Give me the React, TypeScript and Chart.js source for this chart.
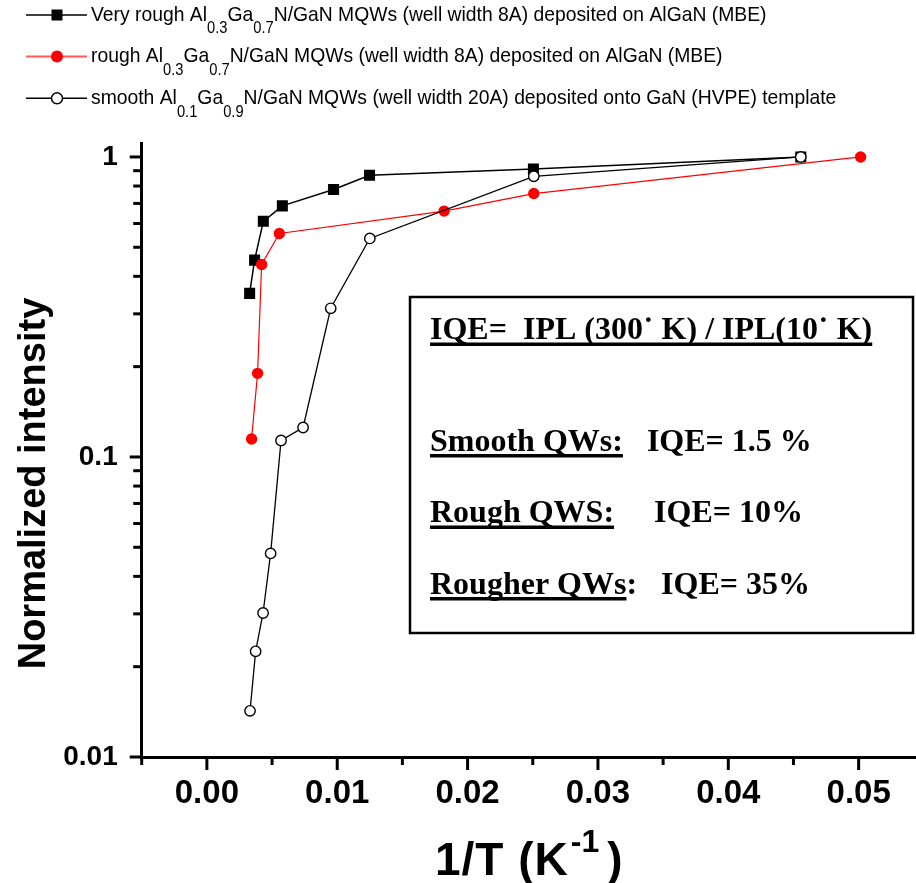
import { useEffect, useRef } from 'react';
import { Chart, registerables } from 'chart.js';

Chart.register(...registerables);

// 1/T (K^-1) and normalized PL intensity of the three MQW samples
const veryRoughX = [0.00328, 0.00366, 0.00433, 0.00579, 0.00972, 0.01248, 0.02505, 0.04556];
const veryRoughY = [0.351, 0.453, 0.61, 0.687, 0.779, 0.869, 0.912, 1.0];

const roughX = [0.00343, 0.00389, 0.0042, 0.00556, 0.0182, 0.02508, 0.05015];
const roughY = [0.1148, 0.19, 0.438, 0.556, 0.66, 0.755, 1.0];

const smoothX = [0.00331, 0.00374, 0.00431, 0.00489, 0.00569, 0.00738, 0.0095, 0.0125, 0.02508, 0.04556];
const smoothY = [0.01425, 0.0225, 0.0302, 0.0477, 0.1135, 0.1254, 0.313, 0.535, 0.862, 1.0];

// axis ticks
const xTicks = [-0.005, 0, 0.005, 0.01, 0.015, 0.02, 0.025, 0.03, 0.035, 0.04, 0.045, 0.05];
const xMajorTicks = [0, 0.01, 0.02, 0.03, 0.04, 0.05];
const xTickLabels = ['0.00', '0.01', '0.02', '0.03', '0.04', '0.05'];

const yTicks = [
  0.01, 0.02, 0.03, 0.04, 0.05, 0.06, 0.07, 0.08, 0.09,
  0.1, 0.2, 0.3, 0.4, 0.5, 0.6, 0.7, 0.8, 0.9,
  1,
];
const yMajorTicks = [0.01, 0.1, 1];
const yTickLabels = ['0.01', '0.1', '1'];

const xTitleMain = '1/T (K';
const xTitleSup = '-1';
const xTitleEnd = ')';
const yTitle = 'Normalized intensity';

type Seg = { text: string; sub?: boolean };
const legendVeryRough: Seg[] = [
  { text: 'Very rough Al' }, { text: '0.3', sub: true }, { text: 'Ga' }, { text: '0.7', sub: true },
  { text: 'N/GaN MQWs (well width 8A) deposited on AlGaN (MBE)' },
];
const legendRough: Seg[] = [
  { text: 'rough Al' }, { text: '0.3', sub: true }, { text: 'Ga' }, { text: '0.7', sub: true },
  { text: 'N/GaN MQWs (well width 8A) deposited on AlGaN (MBE)' },
];
const legendSmooth: Seg[] = [
  { text: 'smooth Al' }, { text: '0.1', sub: true }, { text: 'Ga' }, { text: '0.9', sub: true },
  { text: 'N/GaN MQWs (well width 20A) deposited onto GaN (HVPE) template' },
];

type BoxSeg = { text: string; underline?: boolean };
const boxLines: BoxSeg[][] = [
  [{ text: 'IQE=  IPL (300\u02D9 K) / IPL(10\u02D9 K)', underline: true }],
  [{ text: 'Smooth QWs:', underline: true }, { text: '   IQE= 1.5 %' }],
  [{ text: 'Rough QWS:', underline: true }, { text: '     IQE= 10%' }],
  [{ text: 'Rougher QWs', underline: true }, { text: ':   IQE= 35%' }],
];

const SANS = '"Liberation Sans", Arial, sans-serif';
const SERIF = '"Liberation Serif", "Times New Roman", serif';

const layout = {
  plotLeft: 141.7,
  plotTop: 143,
  plotBottom: 757,
  legendTextX: 91,
  legendLine: [26, 87],
  legendMarkerX: 57,
  legendBaselines: [20.7, 62.3, 104],
  legendScaleX: 0.92,
  box: { x: 410, y: 297, w: 503, h: 336 },
  boxTextX: 430,
  boxBaselines: [339, 450.5, 522, 593.5],
};

function drawMarker(ctx: CanvasRenderingContext2D, kind: number, x: number, y: number) {
  ctx.save();
  if (kind === 0) {
    ctx.fillStyle = '#000';
    ctx.fillRect(x - 5.5, y - 5.5, 11, 11);
  } else if (kind === 1) {
    ctx.fillStyle = '#ff0000';
    ctx.beginPath();
    ctx.arc(x, y, 6, 0, Math.PI * 2);
    ctx.fill();
  } else {
    ctx.fillStyle = '#fff';
    ctx.strokeStyle = '#000';
    ctx.lineWidth = 1.5;
    ctx.beginPath();
    ctx.arc(x, y, 5.5, 0, Math.PI * 2);
    ctx.fill();
    ctx.stroke();
  }
  ctx.restore();
}

function drawLegendRow(ctx: CanvasRenderingContext2D, segs: Seg[], x: number, baseline: number) {
  ctx.save();
  ctx.translate(x, baseline);
  ctx.scale(layout.legendScaleX, 1);
  ctx.fillStyle = '#000';
  ctx.textAlign = 'left';
  ctx.textBaseline = 'alphabetic';
  let cx = 0;
  for (const s of segs) {
    ctx.font = s.sub ? `16px ${SANS}` : `21px ${SANS}`;
    ctx.fillText(s.text, cx, s.sub ? 12.5 : 0);
    cx += ctx.measureText(s.text).width;
  }
  ctx.restore();
}

const decorPlugin = {
  id: 'decor',
  afterDraw(chart: Chart) {
    const ctx = chart.ctx;
    const xs = chart.scales.x;
    const ys = chart.scales.y;
    const area = chart.chartArea;
    ctx.save();
    ctx.strokeStyle = '#000';
    ctx.lineCap = 'butt';

    // tick marks
    for (const v of xTicks) {
      const px = xs.getPixelForValue(v);
      const major = xMajorTicks.some((m) => Math.abs(m - v) < 1e-9);
      ctx.lineWidth = 3;
      ctx.beginPath();
      ctx.moveTo(px, area.bottom);
      ctx.lineTo(px, area.bottom + (major ? 13 : 8));
      ctx.stroke();
    }
    for (const v of yTicks) {
      const py = ys.getPixelForValue(v);
      const major = yMajorTicks.some((m) => Math.abs(m - v) < 1e-9);
      ctx.lineWidth = 3;
      ctx.beginPath();
      ctx.moveTo(area.left, py);
      ctx.lineTo(area.left - (major ? 12 : 8.5), py);
      ctx.stroke();
    }

    // legend
    const rows = [legendVeryRough, legendRough, legendSmooth];
    rows.forEach((segs, i) => {
      const base = layout.legendBaselines[i];
      const my = base - 5.7;
      ctx.save();
      ctx.strokeStyle = i === 1 ? '#ff5a5a' : '#000';
      ctx.lineWidth = i === 1 ? 2 : 1.5;
      ctx.beginPath();
      ctx.moveTo(layout.legendLine[0], my);
      ctx.lineTo(layout.legendLine[1], my);
      ctx.stroke();
      ctx.restore();
      drawMarker(ctx, i, layout.legendMarkerX, my);
      drawLegendRow(ctx, segs, layout.legendTextX, base);
    });

    // IQE box
    const b = layout.box;
    ctx.fillStyle = '#fff';
    ctx.fillRect(b.x, b.y, b.w, b.h);
    ctx.lineWidth = 2.5;
    ctx.strokeStyle = '#000';
    ctx.strokeRect(b.x, b.y, b.w, b.h);
    ctx.fillStyle = '#000';
    ctx.font = `bold 32px ${SERIF}`;
    ctx.textAlign = 'left';
    ctx.textBaseline = 'alphabetic';
    boxLines.forEach((line, i) => {
      let cx = layout.boxTextX;
      const base = layout.boxBaselines[i];
      for (const s of line) {
        const w = ctx.measureText(s.text).width;
        ctx.fillText(s.text, cx, base);
        if (s.underline) ctx.fillRect(cx, base + 3.5, w, 3.5);
        cx += w;
      }
    });

    // axis titles
    ctx.save();
    ctx.translate(45, 483.5);
    ctx.rotate(-Math.PI / 2);
    ctx.font = `bold 38px ${SANS}`;
    ctx.textAlign = 'center';
    ctx.fillText(yTitle, 0, 0);
    ctx.restore();

    ctx.save();
    ctx.textAlign = 'left';
    let tx = 435;
    ctx.font = `bold 46px ${SANS}`;
    (ctx as any).letterSpacing = '1px';
    ctx.fillText(xTitleMain, tx, 875);
    tx += ctx.measureText(xTitleMain).width + 2;
    (ctx as any).letterSpacing = '0px';
    ctx.font = `bold 32px ${SANS}`;
    ctx.fillText(xTitleSup, tx, 852);
    tx += ctx.measureText(xTitleSup).width + 8;
    ctx.font = `bold 46px ${SANS}`;
    ctx.fillText(xTitleEnd, tx, 875);
    ctx.restore();

    ctx.restore();
  },
};

function points(xs: number[], ys: number[]) {
  return xs.map((x, i) => ({ x, y: ys[i] }));
}

export default function App() {
  const canvasRef = useRef<HTMLCanvasElement | null>(null);

  useEffect(() => {
    const canvas = canvasRef.current;
    if (!canvas) return;
    const chart = new Chart(canvas, {
      type: 'line',
      data: {
        datasets: [
          {
            label: 'Very rough',
            data: points(veryRoughX, veryRoughY),
            borderColor: '#000',
            borderWidth: 1.5,
            pointStyle: 'rect',
            pointRadius: 7.8,
            pointBackgroundColor: '#000',
            pointBorderColor: '#000',
            pointBorderWidth: 0,
            order: 3,
          },
          {
            label: 'Rough',
            data: points(roughX, roughY),
            borderColor: '#ff0000',
            borderWidth: 1.2,
            pointStyle: 'circle',
            pointRadius: 5.7,
            pointBackgroundColor: '#ff0000',
            pointBorderColor: '#ff0000',
            pointBorderWidth: 0,
            order: 2,
          },
          {
            label: 'Smooth',
            data: points(smoothX, smoothY),
            borderColor: '#000',
            borderWidth: 1.3,
            pointStyle: 'circle',
            pointRadius: 5.2,
            pointBackgroundColor: '#fff',
            pointBorderColor: '#000',
            pointBorderWidth: 1.4,
            order: 1,
          },
        ],
      },
      options: {
        responsive: false,
        animation: false,
        events: [],
        layout: { autoPadding: false, padding: { top: layout.plotTop, right: 0, left: 0, bottom: 0 } },
        elements: { line: { tension: 0, fill: false } },
        plugins: {
          legend: { display: false },
          tooltip: { enabled: false },
          title: { display: false },
        },
        scales: {
          x: {
            type: 'linear',
            min: -0.005,
            max: 0.0544,
            afterBuildTicks: (scale: any) => {
              scale.ticks = xTicks.map((v) => ({ value: v }));
            },
            afterFit: (scale: any) => {
              scale.height = 883 - layout.plotBottom;
              scale.paddingLeft = 0;
              scale.paddingRight = 0;
            },
            grid: { display: false, drawTicks: true, tickLength: 12 },
            border: { display: true, color: '#000', width: 3 },
            ticks: {
              autoSkip: false,
              maxRotation: 0,
              padding: 5,
              color: '#000',
              font: { family: SANS, size: 33, weight: 'bold' },
              callback: (value: any) => {
                const i = xMajorTicks.findIndex((m) => Math.abs(m - Number(value)) < 1e-9);
                return i >= 0 ? xTickLabels[i] : '';
              },
            },
          },
          y: {
            type: 'logarithmic',
            min: 0.01,
            max: 1.113,
            afterBuildTicks: (scale: any) => {
              scale.ticks = yTicks.map((v) => ({ value: v }));
            },
            afterFit: (scale: any) => {
              scale.width = layout.plotLeft;
              scale.paddingTop = 0;
              scale.paddingBottom = 0;
            },
            grid: { display: false, drawTicks: true, tickLength: 12 },
            border: { display: true, color: '#000', width: 3 },
            ticks: {
              autoSkip: false,
              padding: 12,
              color: '#000',
              font: { family: SANS, size: 28, weight: 'bold' },
              callback: (value: any) => {
                const i = yMajorTicks.findIndex((m) => Math.abs(m - Number(value)) < 1e-9);
                return i >= 0 ? yTickLabels[i] : '';
              },
            },
          },
        },
      },
      plugins: [decorPlugin],
    });
    return () => chart.destroy();
  }, []);

  return (
    <div style={{ position: 'fixed', left: 0, top: 0, width: 916, height: 883, overflow: 'hidden', background: '#fff' }}>
      <canvas ref={canvasRef} width={916} height={883} style={{ display: 'block' }} />
    </div>
  );
}
